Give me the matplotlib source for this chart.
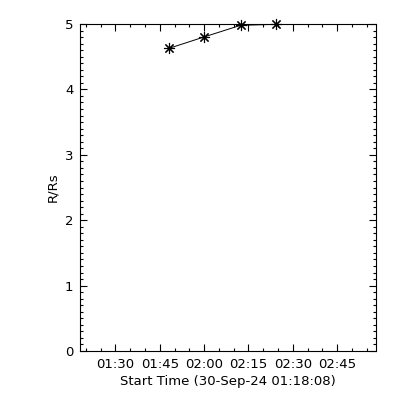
import datetime
import matplotlib
matplotlib.use("Agg")
import matplotlib.pyplot as plt
import matplotlib.dates as mdates
from matplotlib.ticker import MultipleLocator

start_time = datetime.datetime(2024, 9, 30, 1, 18, 8)
end_time = start_time + datetime.timedelta(minutes=100)

obs_times = ["01:48:15", "01:59:50", "02:12:20", "02:24:15"]
heights = [4.63, 4.80, 4.98, 4.995]

times = [datetime.datetime.combine(start_time.date(),
                                   datetime.datetime.strptime(t, "%H:%M:%S").time())
         for t in obs_times]

plt.rcParams['font.family'] = ['DejaVu Sans']
fig = plt.figure(figsize=(4, 4), dpi=100)
ax = fig.add_axes([0.201, 0.1225, 0.739, 0.8175])

ax.plot(times, heights, color="black", linewidth=0.7)
ax.plot(times, heights, linestyle="none", marker=(8, 2, 0), markersize=8,
        markeredgewidth=0.8, color="black", clip_on=False)

ax.set_xlim(start_time, end_time)
ax.set_ylim(0, 5)

ax.xaxis.set_major_locator(mdates.MinuteLocator(byminute=[0, 15, 30, 45]))
ax.xaxis.set_minor_locator(mdates.MinuteLocator(byminute=range(0, 60, 5)))
ax.xaxis.set_major_formatter(mdates.DateFormatter("%H:%M"))
ax.yaxis.set_major_locator(MultipleLocator(1))
ax.yaxis.set_minor_locator(MultipleLocator(0.1))

ax.tick_params(which="both", direction="in", top=True, right=True,
               labelsize=9.5, width=0.8, color="black")
ax.tick_params(which="major", length=5, pad=5)
ax.tick_params(which="minor", length=2.5)
for side in ax.spines.values():
    side.set_linewidth(0.8)

ax.set_xlabel("Start Time (30-Sep-24 01:18:08)", fontsize=9.5, labelpad=3)
ax.set_ylabel("R/Rs", fontsize=9.5, labelpad=4)

fig.savefig("out.png", dpi=100, facecolor="white")
